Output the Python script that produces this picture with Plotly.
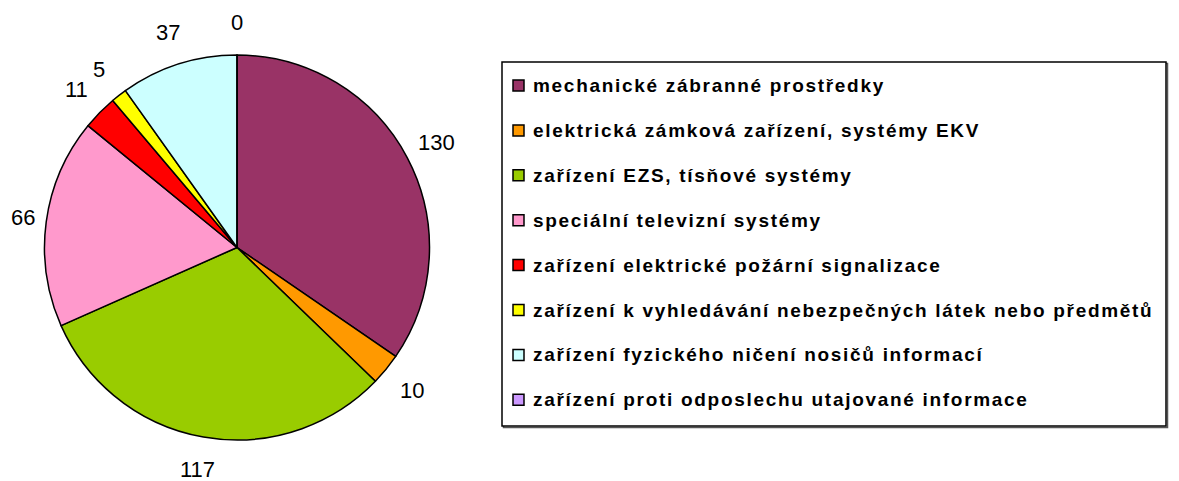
import math
import plotly.graph_objects as go

# ---- data ----
categories = [
    "mechanické zábranné prostředky",
    "elektrická zámková zařízení, systémy EKV",
    "zařízení EZS, tísňové systémy",
    "speciální televizní systémy",
    "zařízení elektrické požární signalizace",
    "zařízení k vyhledávání nebezpečných látek nebo předmětů",
    "zařízení fyzického ničení nosičů informací",
    "zařízení proti odposlechu utajované informace",
]
values = [130, 10, 117, 66, 11, 5, 37, 0]
colors = ["#993366", "#FF9900", "#99CC00", "#FF99CC", "#FF0000", "#FFFF00", "#CCFFFF", "#CC99FF"]

# ---- layout constants (pixels, in page coordinates) ----
OFF = 8  # default body margin of the html page
W, H = 1179 - OFF, 481 - OFF
CX, CY, R = 237.0, 247.5, 192.5
LABEL_OFFSET = 33
LABEL_SIZE = 22
FONT = "Liberation Sans, Arial, sans-serif"


def px(x):
    return (x - OFF) / W


def py(y):
    return 1 - (y - OFF) / H


fig = go.Figure()
fig.add_trace(go.Pie(
    labels=categories,
    values=values,
    sort=False,
    direction="clockwise",
    rotation=0,
    textinfo="none",
    hoverinfo="label+value",
    marker=dict(colors=colors, line=dict(color="black", width=1.5)),
    domain=dict(x=[px(CX - R), px(CX + R)], y=[py(CY + R), py(CY - R)]),
    showlegend=False,
))

annotations = []
total = sum(values)
cum = 0
for v in values:
    mid = (cum + v / 2) / total * 2 * math.pi
    cum += v
    r = R + LABEL_OFFSET
    x = CX + r * math.sin(mid)
    y = CY - r * math.cos(mid)
    half_w = len(str(v)) * LABEL_SIZE * 0.556 / 2
    x = max(x, OFF + 3 + half_w)  # keep the label on the canvas
    annotations.append(dict(
        x=px(x), y=py(y), xref="paper", yref="paper", text=str(v),
        showarrow=False, xanchor="center", yanchor="middle",
        font=dict(family=FONT, size=LABEL_SIZE, color="black"),
    ))

# ---- manual legend ----
LX0, LX1, LY0, LY1 = 502, 1166, 62, 426
ITEM_Y0, ITEM_STEP = 85.5, 44.9
shapes = [
    dict(type="rect", xref="paper", yref="paper",
         x0=px(LX0 + 1.5), x1=px(LX1 + 1.5), y0=py(LY1 + 1.5), y1=py(LY0 + 1.5),
         line=dict(color="#555555", width=1.5), fillcolor="rgba(0,0,0,0)", layer="below"),
    dict(type="rect", xref="paper", yref="paper",
         x0=px(LX0), x1=px(LX1), y0=py(LY1), y1=py(LY0),
         line=dict(color="black", width=1.5), fillcolor="white", layer="below"),
]
for i, (cat, col) in enumerate(zip(categories, colors)):
    yc = ITEM_Y0 + i * ITEM_STEP
    shapes.append(dict(
        type="rect", xref="paper", yref="paper",
        x0=px(513), x1=px(524), y0=py(yc + 5.5), y1=py(yc - 5.5),
        line=dict(color="black", width=1.5), fillcolor=col,
    ))
    annotations.append(dict(
        x=px(531), y=py(yc), xref="paper", yref="paper",
        text=f'<span style="letter-spacing:1.7px">{cat}</span>',
        showarrow=False, xanchor="left", yanchor="middle",
        font=dict(family=FONT, size=19, color="black", weight="bold"),
    ))

fig.update_layout(
    width=W, height=H,
    margin=dict(l=0, r=0, t=0, b=0),
    paper_bgcolor="white",
    plot_bgcolor="white",
    showlegend=False,
    annotations=annotations,
    shapes=shapes,
)

fig.write_html("out.html")
